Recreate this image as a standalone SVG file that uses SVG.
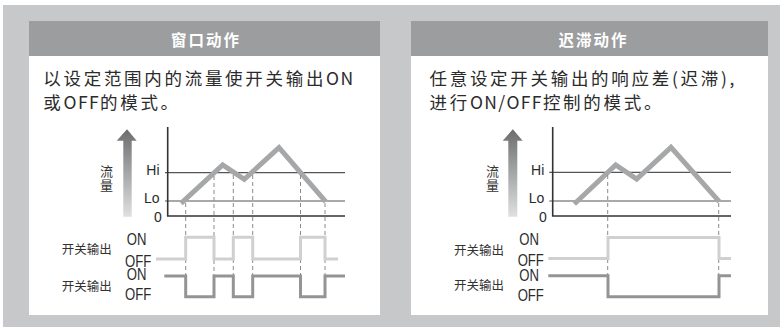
<svg xmlns="http://www.w3.org/2000/svg" width="780" height="327" viewBox="0 0 780 327">
<defs>
<linearGradient id="arrowGrad" x1="0" y1="0" x2="0" y2="1">
<stop offset="0" stop-color="#6c6d6f"/>
<stop offset="1" stop-color="#dfe0e1"/>
</linearGradient>
<style>
.hdr{font-family:"Noto Sans CJK SC","Noto Sans",sans-serif;font-size:15.5px;font-weight:bold;fill:#ffffff;letter-spacing:2px;text-anchor:middle}
.body{font-family:"Noto Sans CJK SC","Noto Sans",sans-serif;font-size:17.5px;fill:#2b2b2b;letter-spacing:2.7px}
.lat{letter-spacing:1.4px}
.lbl{font-family:"Noto Sans CJK SC",sans-serif;font-size:12.5px;fill:#333333}
.vl{font-size:13px}
.ax{font-family:"Liberation Sans",Arial,sans-serif;font-size:14px;fill:#2b2b2b;text-anchor:end}
.onoff{font-family:"Liberation Sans",Arial,sans-serif;font-size:16px;fill:#2b2b2b}
.axis{stroke:#333333;stroke-width:1.6;fill:none}
.lvl{stroke:#555555;stroke-width:1.2;fill:none}
.flow{stroke:#a6a7a9;stroke-width:5;fill:none;stroke-linejoin:miter}
.dash{stroke:#8a8b8d;stroke-width:1;stroke-dasharray:4 3;fill:none}
.out1{stroke:#cfd0d2;stroke-width:3;fill:none}
.out2{stroke:#939496;stroke-width:3;fill:none}
</style>
</defs>
<rect x="0" y="0" width="780" height="327" fill="#ffffff"/>
<rect x="3" y="5" width="777" height="322" fill="#c7c8ca"/>

<g id="card-window">
<rect x="29" y="21" width="351" height="294" fill="#ffffff"/>
<rect x="29" y="21" width="351" height="35" fill="#9c9d9f"/>
<text class="hdr" x="206" y="46">窗口动作</text>
<text class="body" x="43.3" y="84.5">以设定范围内的流量使开关输出<tspan class="lat">ON</tspan></text>
<text class="body" x="43.3" y="108.5">或<tspan class="lat">OFF</tspan>的模式。</text>
</g>

<g id="chart-window">
<path d="M123.3 216.7 V140.7 H116.7 L127 129.3 L136.7 140.7 H131.7 V216.7 Z" fill="url(#arrowGrad)"/>
<text class="lbl vl"><tspan x="100" y="175.5">流</tspan><tspan x="100" y="189.5">量</tspan></text>
<text class="ax" x="159.5" y="174.5">Hi</text>
<text class="ax" x="159.5" y="203.3">Lo</text>
<text class="ax" x="161.8" y="221.7">0</text>
<path class="lvl" d="M165 172.7 H345 M165 201 H345"/>
<path class="axis" d="M167.7 127 V216 H345"/>
<polyline class="flow" points="181,203.3 222.7,165 244.3,179.3 279,147.7 325.7,201.7"/>
<text class="lbl" x="61.7" y="254">开关输出</text>
<text class="lbl" x="61.7" y="290.5">开关输出</text>
<text class="onoff" transform="scale(0.82 1)"><tspan x="154.5" y="245">ON</tspan><tspan x="152.4" y="266.8">OFF</tspan><tspan x="154.5" y="280.5">ON</tspan><tspan x="152.4" y="300.5">OFF</tspan></text>
</g>

<g id="card-hysteresis">
<rect x="411" y="21" width="357" height="294" fill="#ffffff"/>
<rect x="411" y="21" width="357" height="35" fill="#9c9d9f"/>
<text class="hdr" x="593.5" y="46">迟滞动作</text>
<text class="body" x="429.5" y="84.5">任意设定开关输出的响应差(迟滞),</text>
<text class="body" x="429.5" y="108.5">进行<tspan class="lat">ON/OFF</tspan>控制的模式。</text>
</g>

<g id="chart-hysteresis">
<path d="M508.3 216.7 V140.7 H502.7 L512.8 129.3 L522.7 140.7 H517.3 V216.7 Z" fill="url(#arrowGrad)"/>
<text class="lbl vl"><tspan x="486" y="175.5">流</tspan><tspan x="486" y="189.5">量</tspan></text>
<text class="ax" x="544.3" y="174.5">Hi</text>
<text class="ax" x="544.3" y="203.3">Lo</text>
<text class="ax" x="546.7" y="221.7">0</text>
<path class="lvl" d="M549.3 172.3 H731 M549.3 201 H731"/>
<path class="axis" d="M552.7 127 V216 H731"/>
<polyline class="flow" points="574.3,204 615.7,165 636.7,179 671,147.3 719.3,201.7"/>
<text class="lbl" x="454" y="254.5">开关输出</text>
<text class="lbl" x="454" y="290">开关输出</text>
<text class="onoff" transform="scale(0.82 1)"><tspan x="633.3" y="245">ON</tspan><tspan x="631.3" y="266">OFF</tspan><tspan x="633.3" y="281.5">ON</tspan><tspan x="631.3" y="301.5">OFF</tspan></text>
</g>

<g id="connectors">
<path class="dash" d="M185.7 203 V297 M214 176 V297 M233.3 175 V297 M252.7 175 V297 M300.5 175 V297 M325 203 V297"/>
<path class="out1" d="M156 259 H185.7 V237.3 H214 V259 H233.3 V237.3 H252.7 V259 H300.5 V237.3 H325 V259 H338"/>
<path class="out2" d="M164.3 276 H185.7 V296.7 H214 V276 H233.3 V296.7 H252.7 V276 H300.5 V296.7 H325 V276 H345"/>
<path class="dash" d="M607.7 175 V297 M718.7 203 V297"/>
<path class="out1" d="M548.3 258.5 H608 V237.5 H719 V258.5 H731"/>
<path class="out2" d="M548.3 275.8 H608 V296.7 H719 V275.8 H731"/>
</g>
</svg>
